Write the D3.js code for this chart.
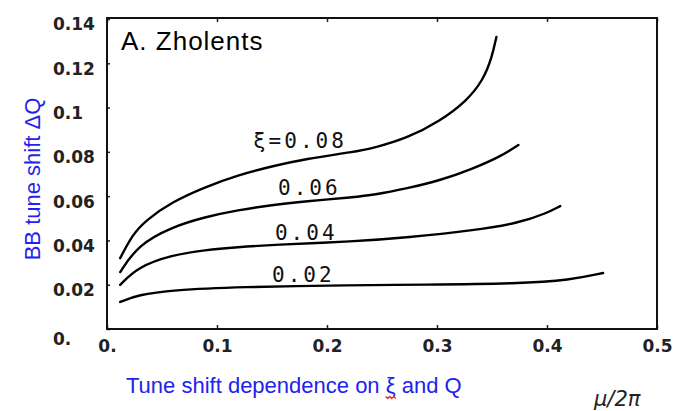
<!DOCTYPE html>
<html>
<head>
<meta charset="utf-8">
<script src="https://cdn.jsdelivr.net/npm/d3@7"></script>
<style>
  body { margin: 0; background: #fff; }
</style>
</head>
<body>
<div id="chart"></div>
<script>
// tick values and labels as printed on the figure
const xTickVals = [0, 0.1, 0.2, 0.3, 0.4, 0.5];
const xTickLabels = ["0.", "0.1", "0.2", "0.3", "0.4", "0.5"];
const yTickVals = [0, 0.02, 0.04, 0.06, 0.08, 0.1, 0.12, 0.14];
const yTickLabels = ["0.", "0.02", "0.04", "0.06", "0.08", "0.1", "0.12", "0.14"];

// [mu/2pi, deltaQ]
const xi08 = [[0.012, 0.032], [0.023, 0.0425], [0.035, 0.049], [0.059, 0.0574], [0.089, 0.0641],
  [0.119, 0.0695], [0.150, 0.0735], [0.180, 0.0768], [0.225, 0.0800], [0.242, 0.0817],
  [0.273, 0.0862], [0.303, 0.0940], [0.327, 0.1030], [0.342, 0.1124], [0.350, 0.1228], [0.354, 0.1319]];
const xi06 = [[0.012, 0.0257], [0.028, 0.0379], [0.059, 0.0461], [0.089, 0.0506], [0.119, 0.0537],
  [0.150, 0.056], [0.180, 0.0576], [0.225, 0.0596], [0.242, 0.0605], [0.273, 0.0635],
  [0.303, 0.0671], [0.333, 0.0725], [0.357, 0.0777], [0.374, 0.0831]];
const xi04 = [[0.012, 0.0199], [0.028, 0.028], [0.059, 0.0334], [0.089, 0.0357], [0.119, 0.037],
  [0.150, 0.038], [0.225, 0.0395], [0.273, 0.0413], [0.333, 0.0445], [0.375, 0.0479],
  [0.400, 0.0524], [0.412, 0.0555]];
const xi02 = [[0.012, 0.0122], [0.028, 0.0154], [0.059, 0.0176], [0.119, 0.019], [0.225, 0.0198],
  [0.285, 0.02], [0.375, 0.0205], [0.421, 0.0221], [0.451, 0.0253]];

const curveNames = ["ξ=0.08", "0.06", "0.04", "0.02"];
// where each curve name sits, in data units (start of text, baseline)
const curveNamePos = [[0.1327, 0.0817], [0.1555, 0.0605], [0.1527, 0.0402], [0.15, 0.0212]];

const W = 682, H = 411;
const frame = { left: 107, right: 657, top: 18, bottom: 329 };

const svg = d3.select("#chart").append("svg")
  .attr("width", W)
  .attr("height", H)
  .style("background", "#fff");

const x = d3.scaleLinear().domain([0, 0.5]).range([frame.left, frame.right]);
const y = d3.scaleLinear().domain([0, 0.14]).range([frame.bottom, 19]);

// bottom axis with inward ticks
const gx = svg.append("g")
  .attr("transform", `translate(0,${frame.bottom})`)
  .call(d3.axisBottom(x).tickValues(xTickVals).tickSize(-4).tickPadding(9)
    .tickFormat((d, i) => xTickLabels[i]));
gx.select(".domain").remove();
gx.selectAll("line").attr("stroke", "#222").attr("stroke-width", 1.5);
gx.selectAll("text")
  .attr("y", 23)
  .attr("dy", null)
  .style("font-family", "DejaVu Sans")
  .style("font-weight", "bold")
  .style("font-size", "17px")
  .attr("fill", "#222");

// top edge ticks, no labels
const gt = svg.append("g")
  .attr("transform", `translate(0,${frame.top})`)
  .call(d3.axisTop(x).tickValues(xTickVals).tickSize(-4).tickFormat(""));
gt.select(".domain").remove();
gt.selectAll("line").attr("stroke", "#222").attr("stroke-width", 1.5);

// left axis, labels left aligned like the scan
const gy = svg.append("g")
  .attr("transform", `translate(${frame.left},0)`)
  .call(d3.axisLeft(y).tickValues(yTickVals).tickSize(-3)
    .tickFormat((d, i) => yTickLabels[i]));
gy.select(".domain").remove();
gy.selectAll("line").attr("stroke", "#222").attr("stroke-width", 1.5);
gy.selectAll("text")
  .attr("x", -54)
  .attr("dy", "0.35em")
  .attr("transform", d => d === 0 ? "translate(0,10)" : "translate(0,5)")
  .attr("text-anchor", "start")
  .style("font-family", "DejaVu Sans")
  .style("font-weight", "bold")
  .style("font-size", "17px")
  .attr("fill", "#222");

// frame
svg.append("rect")
  .attr("x", frame.left)
  .attr("y", frame.top)
  .attr("width", frame.right - frame.left)
  .attr("height", frame.bottom - frame.top)
  .attr("fill", "none")
  .attr("stroke", "#111")
  .attr("stroke-width", 2);

// curves
const line = d3.line()
  .x(d => x(d[0]))
  .y(d => y(d[1]))
  .curve(d3.curveBasis);

[xi08, xi06, xi04, xi02].forEach(s => {
  svg.append("path")
    .datum(s)
    .attr("fill", "none")
    .attr("stroke", "#000")
    .attr("stroke-width", 2.4)
    .attr("stroke-linecap", "round")
    .attr("d", line);
});

// curve names
svg.selectAll(".cname")
  .data(curveNames)
  .enter().append("text")
  .attr("class", "cname")
  .attr("x", (d, i) => x(curveNamePos[i][0]))
  .attr("y", (d, i) => y(curveNamePos[i][1]))
  .style("font-family", "DejaVu Sans Mono")
  .style("font-size", "21px")
  .style("letter-spacing", "3px")
  .attr("fill", "#111")
  .text(d => d);

// author note
svg.append("text")
  .attr("x", 121)
  .attr("y", 50)
  .style("font-family", "Liberation Sans")
  .style("font-size", "26px")
  .style("letter-spacing", "1px")
  .attr("fill", "#000")
  .text("A. Zholents");

// y title
svg.append("text")
  .attr("transform", "translate(40,179) rotate(-90)")
  .attr("text-anchor", "middle")
  .style("font-family", "Liberation Sans")
  .style("font-size", "22px")
  .attr("fill", "#2222ee")
  .text("BB tune shift ΔQ");

// x title
const xt = svg.append("text")
  .attr("x", 126)
  .attr("y", 393)
  .style("font-family", "Liberation Sans")
  .style("font-size", "22px")
  .attr("fill", "#2222ee");
xt.append("tspan").text("Tune shift dependence on ");
xt.append("tspan").attr("id", "xi").text("ξ");
xt.append("tspan").text(" and Q");

// red squiggle under the xi, as in the slide
const xiBox = document.getElementById("xi").getBBox();
const sq = d3.range(0, 6).map(i => [xiBox.x + i * xiBox.width / 5, 397 + (i % 2 ? 1.5 : -0.5)]);
svg.append("path")
  .attr("d", d3.line()(sq))
  .attr("fill", "none")
  .attr("stroke", "#e03020")
  .attr("stroke-width", 1.3);

// mu / 2 pi
svg.append("text")
  .attr("x", 594)
  .attr("y", 406)
  .style("font-family", "DejaVu Sans")
  .style("font-style", "oblique")
  .style("font-size", "21px")
  .attr("fill", "#222")
  .text("μ/2π");
</script>
</body>
</html>
